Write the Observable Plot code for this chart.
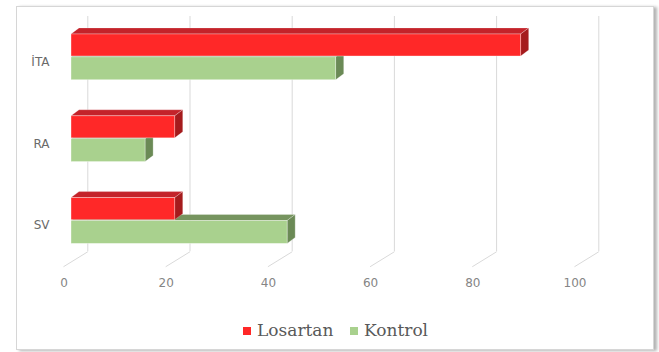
<!DOCTYPE html>
<html><head><meta charset="utf-8">
<script src="https://cdn.jsdelivr.net/npm/d3@7"></script>
<script src="https://cdn.jsdelivr.net/npm/@observablehq/plot@0.6"></script>
<style>
body{margin:0;background:#fff;}
#wrap{position:relative;width:659px;height:352px;overflow:hidden;background:#fff;}
#frame{position:absolute;left:16px;top:6px;width:636px;height:342px;border:1px solid #d6d6d6;box-shadow:3px 1px 3px rgba(0,0,0,0.3);background:#fff;}
#chart{position:absolute;left:0;top:0;}
.leg{position:absolute;top:320px;font-family:"DejaVu Serif";font-size:17px;color:#595959;line-height:20px;white-space:nowrap;}
.sw{position:absolute;width:8px;height:8px;top:327px;}
</style></head><body>
<div id="wrap"><div id="frame"></div><div id="chart"></div><div id="legend"></div></div>
<script>
const categories = ["İTA", "RA", "SV"];
const seriesNames = ["Losartan", "Kontrol"];
const losartan = [88, 20.3, 20.3];
const kontrol = [51.8, 14.5, 42.3];
const xTicks = [0, 20, 40, 60, 80, 100];

const colors = {
  Losartan: {front: "#ff2828", top: "#c4232a", side: "#a51b1d"},
  Kontrol: {front: "#a9d18e", top: "#76945f", side: "#6b8a56"}
};

// 3D depth offsets (in scale units)
const DX = 1.57, DY = 0.0734;
const BX = 3.19, FX = 1.57;
const yTop = -0.494, yBack = 2.381, yFront = 2.564;

function faces(name, vals, off0, off1) {
  const c = colors[name];
  const rows = categories.map((cat, i) => ({cat, v: vals[i], y1: i + off0, y2: i + off1}));
  const topPts = rows.flatMap(r => [
    {cat: r.cat, y: r.y1, x1: 0, x2: r.v},
    {cat: r.cat, y: r.y1 - DY, x1: DX, x2: r.v + DX}
  ]);
  const sidePts = rows.flatMap(r => [
    {cat: r.cat, x: r.v, y1: r.y1, y2: r.y2},
    {cat: r.cat, x: r.v + DX, y1: r.y1 - DY, y2: r.y2 - DY}
  ]);
  return [
    Plot.areaX(topPts, {y: "y", x1: "x1", x2: "x2", z: "cat", fill: c.top, stroke: "#fff", strokeOpacity: 0.35, strokeWidth: 0.7}),
    Plot.areaY(sidePts, {x: "x", y1: "y1", y2: "y2", z: "cat", fill: c.side, stroke: "#fff", strokeOpacity: 0.35, strokeWidth: 0.7}),
    Plot.rectX(rows, {x1: d => 0, x2: "v", y1: "y1", y2: "y2", fill: c.front, stroke: "#fff", strokeOpacity: 0.45, strokeWidth: 0.8})
  ];
}

const chart = Plot.plot({
  width: 659,
  height: 300,
  marginLeft: 71,
  marginRight: 77,
  marginBottom: 24,
  marginTop: 0,
  style: {fontFamily: "'DejaVu Sans', sans-serif", fontSize: "12px", background: "transparent"},
  x: {domain: [0, 100], range: [71, 582], label: null},
  y: {domain: [-0.5, 2.5], range: [15.5, 261], label: null},
  marks: [
    Plot.ruleX(xTicks, {x: d => d + BX, y1: d => yTop, y2: d => yBack, stroke: "#d9d9d9", strokeWidth: 1}),
    Plot.link(xTicks, {x1: d => d - FX, y1: d => yFront, x2: d => d + BX, y2: d => yBack, stroke: "#d9d9d9", strokeWidth: 1}),
    ...faces("Kontrol", kontrol, 0.005, 0.285),
    ...faces("Losartan", losartan, -0.275, -0.005),
    Plot.axisX({ticks: xTicks, tickSize: 0, tickPadding: 2, dx: -7.5, fill: "#858585", fontSize: 12, label: null}),
    Plot.axisY({ticks: [0, 1, 2], tickFormat: i => categories[i], tickSize: 0, tickPadding: 22, dy: 5, fill: "#6a6a6a", fontSize: 12, label: null})
  ]
});
document.getElementById("chart").appendChild(chart);

const legend = document.getElementById("legend");
const legPos = {Losartan: [243, 257], Kontrol: [350, 364]};
seriesNames.forEach(n => {
  const sw = document.createElement("span");
  sw.className = "sw"; sw.style.left = legPos[n][0] + "px"; sw.style.background = colors[n].front;
  const t = document.createElement("span");
  t.className = "leg"; t.style.left = legPos[n][1] + "px"; t.textContent = n;
  legend.appendChild(sw); legend.appendChild(t);
});
</script>
</body></html>
